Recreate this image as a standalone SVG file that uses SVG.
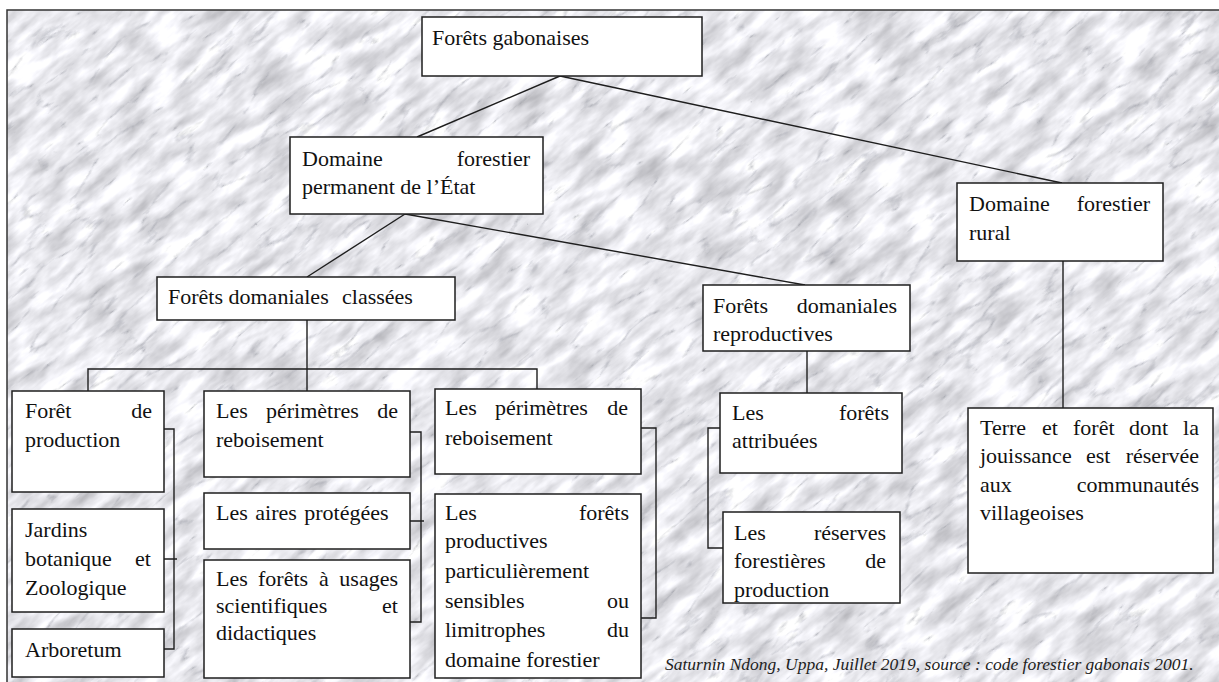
<svg xmlns="http://www.w3.org/2000/svg" width="1219" height="682" viewBox="0 0 1219 682">
<style>
.box{fill:#fff;stroke:#1e1e1e;stroke-width:1.5}
.t{font-family:'Liberation Serif','DejaVu Serif',serif;font-size:22px;fill:#111}
.e{text-anchor:end}
.ln{stroke:#1e1e1e;stroke-width:1.4;fill:none}
.cap{font-family:'Liberation Serif','DejaVu Serif',serif;font-size:17.5px;font-style:italic;fill:#222}
</style>
<defs>
<filter id="marble" filterUnits="userSpaceOnUse" x="-500" y="-700" width="2300" height="2100" color-interpolation-filters="sRGB">
<feTurbulence type="fractalNoise" baseFrequency="0.022 0.07" numOctaves="4" seed="3" result="n1"/>
<feColorMatrix in="n1" type="matrix" values="0.45 0 0 0 0.69 0.45 0 0 0 0.69 0.45 0 0 0 0.71 0 0 0 0 1" result="base"/>
<feTurbulence type="turbulence" baseFrequency="0.012 0.04" numOctaves="5" seed="11" result="n2"/>
<feColorMatrix in="n2" type="matrix" values="0 0 0 0 0.52 0 0 0 0 0.53 0 0 0 0 0.57 -2.6 0 0 0 0.45" result="veins"/>
<feGaussianBlur in="veins" stdDeviation="0.7" result="veinsb"/>
<feMerge><feMergeNode in="base"/><feMergeNode in="veinsb"/></feMerge>
</filter>
<clipPath id="frameclip"><rect x="7" y="10" width="1212" height="672"/></clipPath>
</defs>
<rect width="1219" height="682" fill="#fff"/>
<g id="background" clip-path="url(#frameclip)">
<g transform="rotate(-40 610 345)">
<rect x="-500" y="-700" width="2300" height="2100" fill="#e8e8ea" filter="url(#marble)"/>
</g>
</g>
<path d="M7 682V10H1219" fill="none" stroke="#333" stroke-width="1.5"/>

<g id="connectors" class="ln">
<path d="M560 76L417 137"/>
<path d="M560 76L1062 183"/>
<path d="M405 214L307 277"/>
<path d="M405 214L805 285"/>
<path d="M307 320V391"/>
<path d="M88 391V369H537V389"/>
<path d="M807 351V393"/>
<path d="M1063 261V408"/>
<path d="M164 429H174V649H164M164 559H177"/>
<path d="M410 432H421V622H410M410 521H424"/>
<path d="M641 428H656V618H641"/>
<path d="M720 428H708V548H723"/>
</g>

<g id="n-forets-gabonaises">
<rect class="box" x="422" y="17" width="280" height="59"/>
<text class="t" x="432" y="45">Forêts gabonaises</text>
</g>

<g id="n-domaine-permanent">
<rect class="box" x="290" y="137" width="253" height="77"/>
<text class="t" x="302" y="166">Domaine</text>
<text class="t e" x="530" y="166">forestier</text>
<text class="t" x="302" y="194">permanent de l’État</text>
</g>

<g id="n-domaine-rural">
<rect class="box" x="957" y="183" width="206" height="78"/>
<text class="t" x="969" y="211">Domaine</text>
<text class="t e" x="1150" y="211">forestier</text>
<text class="t" x="969" y="240">rural</text>
</g>

<g id="n-classees">
<rect class="box" x="157" y="277" width="298" height="43"/>
<text class="t" x="168" y="304">Forêts domaniales</text>
<text class="t" x="342" y="304">classées</text>
</g>

<g id="n-reproductives">
<rect class="box" x="703" y="285" width="207" height="66"/>
<text class="t" x="713" y="313">Forêts</text>
<text class="t e" x="897" y="313">domaniales</text>
<text class="t" x="713" y="341">reproductives</text>
</g>

<g id="n-foret-production">
<rect class="box" x="12" y="391" width="152" height="101"/>
<text class="t" x="25" y="418">Forêt</text>
<text class="t e" x="152" y="418">de</text>
<text class="t" x="25" y="447">production</text>
</g>

<g id="n-jardins">
<rect class="box" x="12" y="509" width="152" height="103"/>
<text class="t" x="25" y="537">Jardins</text>
<text class="t" x="25" y="566">botanique</text>
<text class="t e" x="151" y="566">et</text>
<text class="t" x="25" y="595">Zoologique</text>
</g>

<g id="n-arboretum">
<rect class="box" x="12" y="629" width="152" height="48"/>
<text class="t" x="25" y="657">Arboretum</text>
</g>

<g id="n-perimetres-1">
<rect class="box" x="204" y="391" width="206" height="86"/>
<text class="t" x="216" y="418">Les</text>
<text class="t" x="266" y="418">périmètres</text>
<text class="t e" x="398" y="418">de</text>
<text class="t" x="216" y="447">reboisement</text>
</g>

<g id="n-aires-protegees">
<rect class="box" x="204" y="493" width="206" height="56"/>
<text class="t" x="216" y="520" word-spacing="2">Les aires protégées</text>
</g>

<g id="n-usages-scientifiques">
<rect class="box" x="204" y="560" width="206" height="118"/>
<text class="t" x="216" y="586">Les</text>
<text class="t" x="258" y="586">forêts</text>
<text class="t" x="319" y="586">à</text>
<text class="t e" x="398" y="586">usages</text>
<text class="t" x="216" y="613">scientifiques</text>
<text class="t e" x="398" y="613">et</text>
<text class="t" x="216" y="640">didactiques</text>
</g>

<g id="n-perimetres-2">
<rect class="box" x="435" y="389" width="206" height="85"/>
<text class="t" x="445" y="415">Les</text>
<text class="t" x="495" y="415">périmètres</text>
<text class="t e" x="628" y="415">de</text>
<text class="t" x="445" y="445">reboisement</text>
</g>

<g id="n-forets-productives">
<rect class="box" x="435" y="494" width="206" height="184"/>
<text class="t" x="445" y="520">Les</text>
<text class="t e" x="629" y="520">forêts</text>
<text class="t" x="445" y="548">productives</text>
<text class="t" x="445" y="578">particulièrement</text>
<text class="t" x="445" y="608">sensibles</text>
<text class="t e" x="629" y="608">ou</text>
<text class="t" x="445" y="637">limitrophes</text>
<text class="t e" x="629" y="637">du</text>
<text class="t" x="445" y="667">domaine forestier</text>
</g>

<g id="n-forets-attribuees">
<rect class="box" x="720" y="393" width="182" height="80"/>
<text class="t" x="732" y="420">Les</text>
<text class="t e" x="889" y="420">forêts</text>
<text class="t" x="732" y="448">attribuées</text>
</g>

<g id="n-reserves-forestieres">
<rect class="box" x="723" y="512" width="177" height="91"/>
<text class="t" x="734" y="540">Les</text>
<text class="t e" x="886" y="540">réserves</text>
<text class="t" x="734" y="568">forestières</text>
<text class="t e" x="886" y="568">de</text>
<text class="t" x="734" y="597">production</text>
</g>

<g id="n-terre-foret">
<rect class="box" x="968" y="408" width="245" height="165"/>
<text class="t" x="980" y="435">Terre</text>
<text class="t" x="1042" y="435">et</text>
<text class="t" x="1073" y="435">forêt</text>
<text class="t" x="1129" y="435">dont</text>
<text class="t e" x="1199" y="435">la</text>
<text class="t" x="980" y="463">jouissance</text>
<text class="t" x="1086" y="463">est</text>
<text class="t e" x="1199" y="463">réservée</text>
<text class="t" x="980" y="492">aux</text>
<text class="t e" x="1199" y="492">communautés</text>
<text class="t" x="980" y="520">villageoises</text>
</g>

<text id="caption" class="cap" x="665" y="670">Saturnin Ndong, Uppa, Juillet 2019, source : code forestier gabonais 2001.</text>
</svg>
